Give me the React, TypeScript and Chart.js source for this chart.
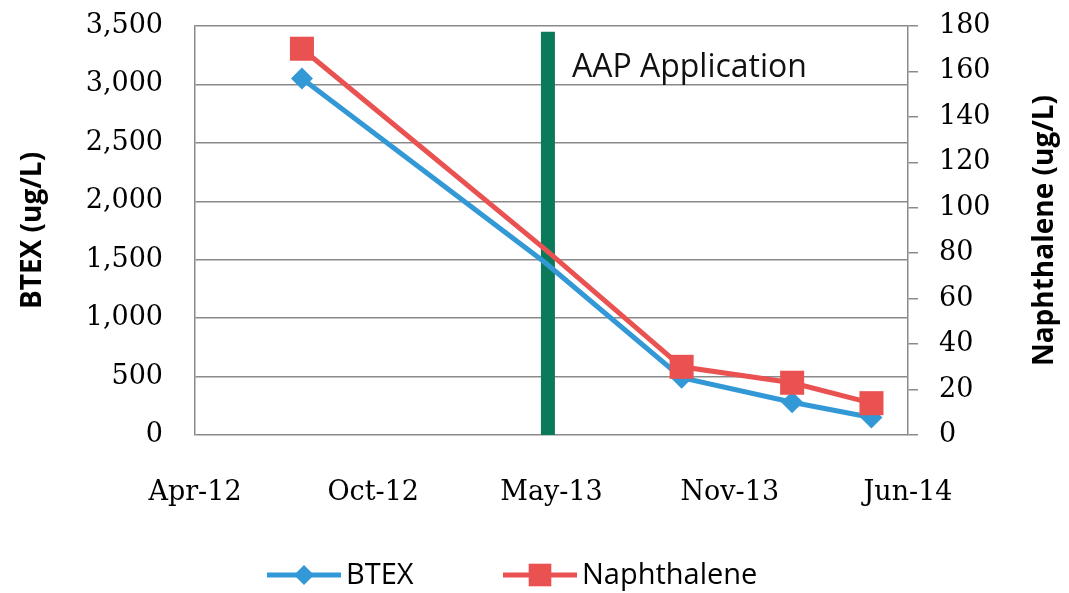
import React, { useEffect, useRef } from 'react';
import { Chart, registerables } from 'chart.js';

Chart.register(...registerables);

// ---- data ----
const baseDate = '2012-04-15';
const sampleDates = ['2012-08-13', '2013-05-12', '2013-10-13', '2014-02-14', '2014-05-14'];
const btexValues = [3050, 1480, 490, 280, 150];
const naphthaleneValues = [170, 82, 30, 23, 14];
const aapDate = '2013-05-16';
const aapLineTop = 3450;
const xTickLabels = ['Apr-12', 'Oct-12', 'May-13', 'Nov-13', 'Jun-14'];
const xTickStepDays = 200;
const btexMax = 3500;
const btexStep = 500;
const naphMax = 180;
const naphStep = 20;

const BLUE = '#3399D6';
const RED = '#EA5252';
const GREEN = '#0B7A5B';
const GRID = '#8A8A8A';
const TICK = '#000000';

function dayOffset(d: string): number {
  return (Date.parse(d) - Date.parse(baseDate)) / 86400000;
}

const overlayPlugin = {
  id: 'overlay',
  beforeDraw(chart: any) {
    const { ctx } = chart;
    ctx.save();
    ctx.fillStyle = '#ffffff';
    ctx.fillRect(0, 0, chart.width, chart.height);
    ctx.restore();
  },
  afterDraw(chart: any) {
    const { ctx, chartArea, scales } = chart;
    ctx.save();
    // AAP label
    const ax = scales.x.getPixelForValue(dayOffset(aapDate));
    ctx.font = '32px "Open Sans"';
    ctx.fillStyle = '#111111';
    ctx.textAlign = 'left';
    ctx.textBaseline = 'alphabetic';
    ctx.fillText('AAP Application', ax + 24, chartArea.top + 51);

    // axis titles (both read bottom-to-top)
    const cy = (chartArea.top + chartArea.bottom) / 2;
    ctx.font = 'bold 28px "Open Sans"';
    ctx.textAlign = 'center';
    ctx.textBaseline = 'middle';
    ctx.fillStyle = '#000000';
    ctx.save();
    ctx.translate(33, cy);
    ctx.rotate(-Math.PI / 2);
    ctx.fillText('BTEX (ug/L)', 0, 0);
    ctx.restore();
    ctx.save();
    ctx.translate(1045, cy);
    ctx.rotate(-Math.PI / 2);
    ctx.fillText('Naphthalene (ug/L)', 0, 0);
    ctx.restore();

    // legend
    const items = [
      { label: chart.data.datasets[0].label, color: BLUE, style: 'rectRot', r: 10, x: 267 },
      { label: chart.data.datasets[1].label, color: RED, style: 'rect', r: 16, x: 503 },
    ];
    const ly = 575;
    ctx.font = '29px "Open Sans"';
    ctx.textAlign = 'left';
    ctx.textBaseline = 'middle';
    items.forEach((it) => {
      ctx.strokeStyle = it.color;
      ctx.lineWidth = 5;
      ctx.beginPath();
      ctx.moveTo(it.x, ly);
      ctx.lineTo(it.x + 74, ly);
      ctx.stroke();
      ctx.fillStyle = it.color;
      const mx = it.x + 37;
      ctx.beginPath();
      if (it.style === 'rect') {
        const s = it.r * Math.SQRT1_2;
        ctx.rect(mx - s, ly - s, 2 * s, 2 * s);
      } else {
        ctx.moveTo(mx, ly - it.r);
        ctx.lineTo(mx + it.r, ly);
        ctx.lineTo(mx, ly + it.r);
        ctx.lineTo(mx - it.r, ly);
        ctx.closePath();
      }
      ctx.fill();
      ctx.fillStyle = '#000000';
      ctx.fillText(it.label, it.x + 79, ly + 1);
    });
    ctx.restore();
  },
};

export default function App() {
  const canvasRef = useRef<HTMLCanvasElement | null>(null);

  useEffect(() => {
    document.body.style.margin = '0';
    const canvas = canvasRef.current;
    if (!canvas) return;
    const xs = sampleDates.map(dayOffset);
    const aapX = dayOffset(aapDate);
    const hideMiddle = (ctx: any, r: number) => (ctx.dataIndex === 1 ? 0 : r);
    const fitY = (w: number) => (s: any) => {
      s.width = w;
      s.paddingTop = 0;
      s.paddingBottom = 0;
    };

    const chart = new Chart(canvas, {
      type: 'line',
      data: {
        datasets: [
          {
            label: 'BTEX',
            data: xs.map((x, i) => ({ x, y: btexValues[i] })),
            yAxisID: 'y',
            borderColor: BLUE,
            backgroundColor: BLUE,
            borderWidth: 5,
            pointStyle: 'rectRot',
            pointRadius: (c: any) => hideMiddle(c, 11),
            pointBorderWidth: 0,
            order: 1,
          },
          {
            label: 'Naphthalene',
            data: xs.map((x, i) => ({ x, y: naphthaleneValues[i] })),
            yAxisID: 'y1',
            borderColor: RED,
            backgroundColor: RED,
            borderWidth: 5,
            pointStyle: 'rect',
            pointRadius: (c: any) => hideMiddle(c, 17),
            pointBorderWidth: 0,
            order: 0,
          },
          {
            label: 'AAP Application',
            data: [
              { x: aapX, y: 0 },
              { x: aapX, y: aapLineTop },
            ],
            yAxisID: 'y',
            borderColor: GREEN,
            backgroundColor: GREEN,
            borderWidth: 14,
            borderCapStyle: 'butt',
            pointRadius: 0,
            order: 5,
          },
        ],
      },
      options: {
        responsive: false,
        animation: false,
        events: [],
        layout: { padding: { left: 0, right: 0, top: 26, bottom: 78 } },
        plugins: {
          legend: { display: false },
          tooltip: { enabled: false },
        },
        scales: {
          x: {
            type: 'linear',
            min: 0,
            max: xTickStepDays * (xTickLabels.length - 1),
            afterFit: (s: any) => {
              s.height = 80;
            },
            ticks: {
              stepSize: xTickStepDays,
              padding: 34,
              maxRotation: 0,
              font: { family: '"DejaVu Serif"', size: 27 },
              color: TICK,
              callback: (v: any) => xTickLabels[Math.round(Number(v) / xTickStepDays)] ?? '',
            },
            grid: { display: false },
            border: { display: false },
          },
          y: {
            type: 'linear',
            position: 'left',
            min: 0,
            max: btexMax,
            afterFit: fitY(195),
            ticks: {
              stepSize: btexStep,
              padding: 32,
              font: { family: '"DejaVu Serif"', size: 27 },
              color: TICK,
              callback: (v: any) => Number(v).toLocaleString('en-US'),
            },
            grid: { color: GRID, lineWidth: 1.5, drawTicks: false },
            border: { display: true, color: GRID, width: 1.5 },
          },
          y1: {
            type: 'linear',
            position: 'right',
            min: 0,
            max: naphMax,
            afterFit: fitY(161),
            ticks: {
              stepSize: naphStep,
              padding: 21,
              font: { family: '"DejaVu Serif"', size: 27 },
              color: TICK,
            },
            grid: {
              drawOnChartArea: false,
              drawTicks: true,
              tickLength: 10,
              color: GRID,
              lineWidth: 1.5,
            },
            border: { display: true, color: GRID, width: 1.5 },
          },
        },
      } as any,
      plugins: [overlayPlugin],
    });
    return () => chart.destroy();
  }, []);

  return (
    <div style={{ width: 1069, height: 593 }}>
      <canvas ref={canvasRef} width={1069} height={593} />
    </div>
  );
}
